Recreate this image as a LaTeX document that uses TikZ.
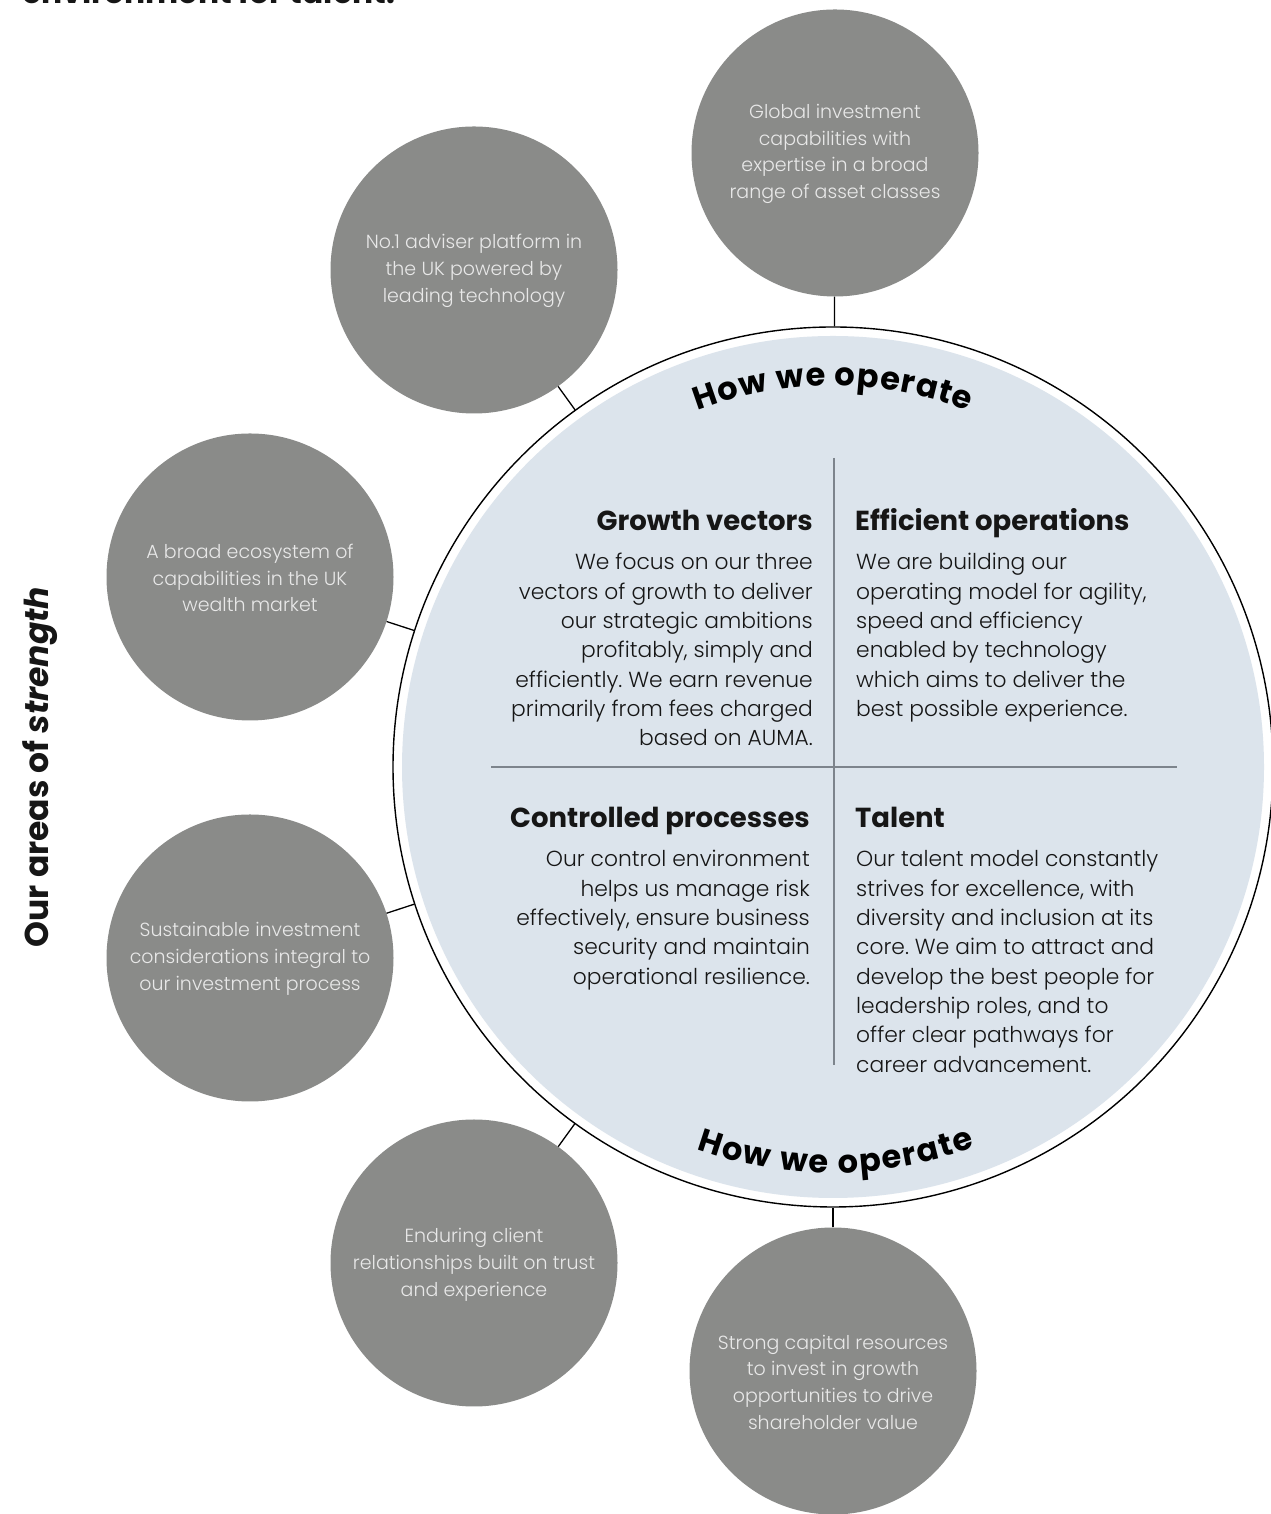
\documentclass[tikz,border=0pt]{standalone}
\usepackage{fontspec}
\setmainfont{Poppins}[UprightFont=* Light, BoldFont=* Bold, ItalicFont=* Light Italic, BoldItalicFont=* Bold Italic]
\usetikzlibrary{decorations.text}
\frenchspacing

\definecolor{bubblegray}{RGB}{138,139,137}
\definecolor{bubbletext}{RGB}{232,232,232}
\definecolor{discfill}{RGB}{220,228,236}
\definecolor{rulegray}{RGB}{125,132,140}
\definecolor{ink}{RGB}{22,22,22}

\newcommand\curvefont{\fontsize{32}{32}\selectfont\bfseries}
\newcommand\bodyfont{\fontsize{21.8}{29.3}\selectfont}

\tikzset{
  bubble/.style={circle, fill=bubblegray, minimum size=287pt, inner sep=0pt},
  bubblecaption/.style={inner sep=0pt, align=center, text=bubbletext,
    font=\fontsize{19}{26.7}\selectfont},
  link/.style={draw=black, line width=1.3pt},
  divider/.style={draw=rulegray, line width=1.3pt},
  heading/.style={inner sep=0pt, text=ink, font=\fontsize{27.5}{32}\bfseries\selectfont},
  bodytext/.style={inner sep=0pt, text=ink},
}

\begin{document}
\begin{tikzpicture}[x=1pt, y=1pt]
  \useasboundingbox (0,0) rectangle (1270,1514);
  \fill[white] (0,0) rectangle (1270,1514);

  % heading line running off the top edge
  \node[anchor=base west, inner sep=0pt, text=ink,
        font=\fontsize{31.3}{36}\bfseries\selectfont] (title) at (22,1510) {environment for talent.};

  % central disc and its outline
  \node[circle, fill=discfill, minimum size=862pt, inner sep=0pt] (disc) at (833,747) {};
  \node[circle, draw=black, line width=1.4pt, minimum size=880pt, inner sep=0pt] (ring) at (833,747) {};

  % surrounding strengths
  \node[bubble] (s1) at (835,1361) {};
  \node[bubble] (s2) at (474,1244) {};
  \node[bubble] (s3) at (250,937) {};
  \node[bubble] (s4) at (250,556) {};
  \node[bubble] (s5) at (474,251) {};
  \node[bubble] (s6) at (833,143) {};

  \node[bubblecaption] (c1) at (835,1360) {Global investment\\capabilities with\\expertise in a broad\\range of asset classes};
  \node[bubblecaption] (c2) at (474,1243) {No.1 adviser platform in\\the UK powered by\\leading technology};
  \node[bubblecaption] (c3) at (250,936) {A broad ecosystem of\\capabilities in the UK\\wealth market};
  \node[bubblecaption] (c4) at (250,555) {Sustainable investment\\considerations integral to\\our investment process};
  \node[bubblecaption] (c5) at (474,249) {Enduring client\\relationships built on trust\\and experience};
  \node[bubblecaption] (c6) at (833,132) {Strong capital resources\\to invest in growth\\opportunities to drive\\shareholder value};

  \foreach \s in {s1,s2,s3,s4,s5,s6} \draw[link] (\s) -- (ring);

  % quadrant dividers
  \coordinate (vtop) at (834,1056);
  \coordinate (vbot) at (834,449);
  \coordinate (hleft) at (491,747);
  \coordinate (hright) at (1177,747);
  \draw[divider] (vtop) -- (vbot);
  \draw[divider] (hleft) -- (hright);

  % curved captions
  \path[decorate, decoration={text along path, text align={fit to path},
        text={|\curvefont|How we operate}}]
    (ring.center) ++(110.8:381) arc[start angle=110.8, end angle=69.2, radius=381];
  \path[decorate, decoration={text along path, text align={fit to path},
        text={|\curvefont|How we operate}}]
    (ring.center) ++(250.4:406) arc[start angle=250.4, end angle=290.5, radius=406];

  % quadrant headings
  \node[heading, anchor=base east] (gvh) at (813,983) {Growth vectors};
  \node[heading, anchor=base west] (eoh) at (855,983) {Efficient operations};
  \node[heading, anchor=base east] (cph) at (810,686) {Controlled processes};
  \node[heading, anchor=base west] (tah) at (855,686) {Talent};

  % quadrant texts
  \node[bodytext, anchor=base east] (gvb) at (813,944) {\parbox[t]{340pt}{\raggedleft\bodyfont
    We focus on our three\\vectors of growth to deliver\\our strategic ambitions\\profitably, simply and\\efficiently. We earn revenue\\primarily from fees charged\\based on AUMA.}};
  \node[bodytext, anchor=base west] (eob) at (856,944) {\parbox[t]{340pt}{\raggedright\bodyfont
    We are building our\\operating model for agility,\\speed and efficiency\\enabled by technology\\which aims to deliver the\\best possible experience.}};
  \node[bodytext, anchor=base east] (cpb) at (810,647) {\parbox[t]{340pt}{\raggedleft\bodyfont
    Our control environment\\helps us manage risk\\effectively, ensure business\\security and maintain\\operational resilience.}};
  \node[bodytext, anchor=base west] (tab) at (856,647) {\parbox[t]{340pt}{\raggedright\bodyfont
    Our talent model constantly\\strives for excellence, with\\diversity and inclusion at its\\core. We aim to attract and\\develop the best people for\\leadership roles, and to\\offer clear pathways for\\career advancement.}};

  % side caption
  \node[rotate=90, inner sep=0pt, text=ink, font=\fontsize{33}{36}\bfseries\selectfont]
    (side) at (40,747) {Our areas of \textit{strength}};
\end{tikzpicture}
\end{document}
